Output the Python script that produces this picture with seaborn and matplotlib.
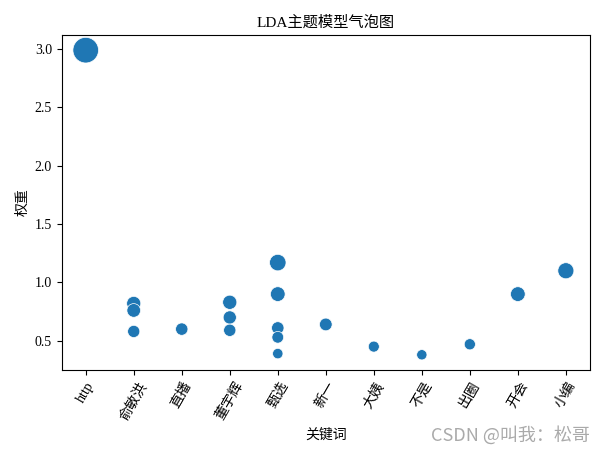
import matplotlib
matplotlib.use("Agg")
import matplotlib.pyplot as plt
import pandas as pd
import seaborn as sns

# ==========================
# DADOS
# ==========================

keywords = [
    "http",
    "俞敏洪", "俞敏洪", "俞敏洪",
    "直播",
    "董宇辉", "董宇辉", "董宇辉",
    "甄选", "甄选", "甄选", "甄选", "甄选",
    "新一",
    "大姨",
    "不是",
    "出圈",
    "开会",
    "小编",
]

weights = [
    2.99,
    0.82, 0.76, 0.58,
    0.60,
    0.83, 0.70, 0.59,
    1.17, 0.90, 0.61, 0.53, 0.39,
    0.64,
    0.45,
    0.38,
    0.47,
    0.90,
    1.10,
]

order = ["http", "俞敏洪", "直播", "董宇辉", "甄选", "新一",
         "大姨", "不是", "出圈", "开会", "小编"]

plt.rcParams["font.family"] = ["Liberation Serif", "Noto Sans CJK SC", "DejaVu Sans"]
plt.rcParams["axes.unicode_minus"] = False

df = pd.DataFrame({"关键词": keywords, "权重": weights})
df["关键词"] = pd.Categorical(df["关键词"], categories=order, ordered=True)

fig, ax = plt.subplots(figsize=(6.05, 4.54), dpi=100)

sns.scatterplot(
    data=df,
    x="关键词",
    y="权重",
    size="权重",
    sizes=(55, 340),
    color="#1f77b4",
    linewidth=0.5,
    legend=False,
    ax=ax,
)

ax.set_title("LDA主题模型气泡图", fontsize=11)
ax.set_xlabel("关键词")
ax.set_ylabel("权重")
ax.set_xticks(range(len(order)))
ax.set_xticklabels(order, rotation=60)
ax.set_xlim(-0.5, len(order) - 0.5)

fig.subplots_adjust(left=0.102, right=0.975, top=0.923, bottom=0.185)

fig.text(0.975, 0.042, "CSDN @叫我：松哥", ha="right", va="center",
         color="#aaaaaa", fontsize=13, family=["Noto Sans CJK SC", "DejaVu Sans"])

fig.savefig("out.png", dpi=100)
